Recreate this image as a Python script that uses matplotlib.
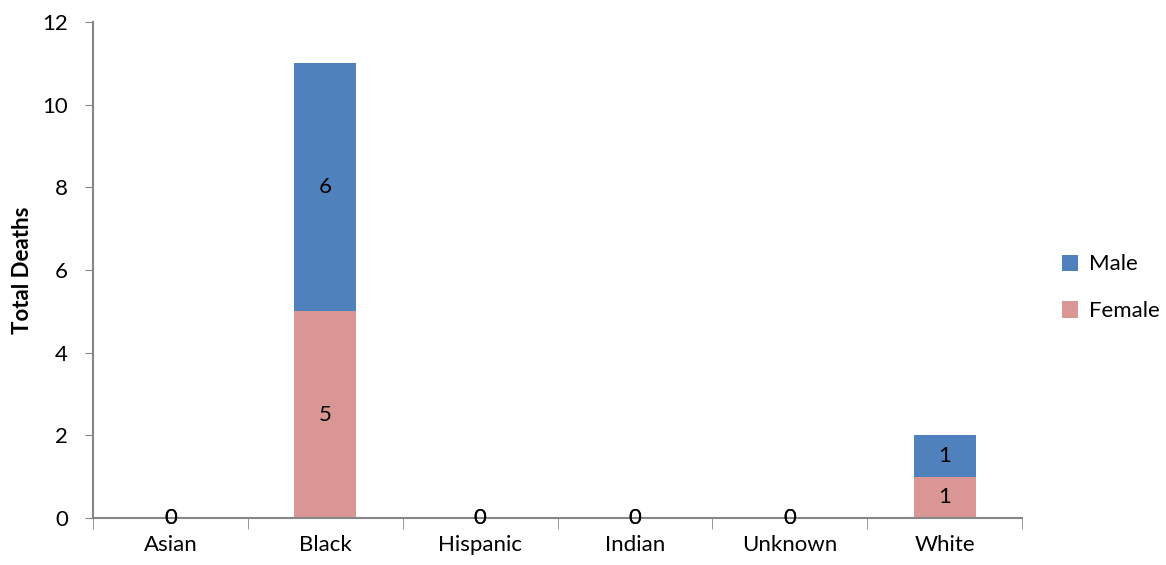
import matplotlib.pyplot as plt
import numpy as np

# Data
races = ["Asian", "Black", "Hispanic", "Indian", "Unknown", "White"]
female = [0, 5, 0, 0, 0, 1]
male = [0, 6, 0, 0, 0, 1]

plt.rcParams['font.family'] = ['Lato', 'DejaVu Sans']

fig = plt.figure(figsize=(11.66, 5.65), dpi=100)
ax = fig.add_axes([0.0798, 0.0832, 0.7967, 0.878])

x = np.arange(len(races))
bf = ax.bar(x, female, width=0.4, color='#D99694', label='Female')
bm = ax.bar(x, male, width=0.4, bottom=female, color='#4F81BD', label='Male')

# value labels (zeros sit on the axis, drawn twice like the original)
for i in range(len(races)):
    ax.text(x[i], female[i] / 2, str(female[i]), ha='center', va='center', fontsize=16)
    ax.text(x[i], female[i] + male[i] / 2, str(male[i]), ha='center', va='center', fontsize=16)

ax.set_xlim(-0.5, len(races) - 0.5)
ax.set_ylim(0, 12)
ax.set_yticks(range(0, 13, 2))
ax.set_xticks(x)
ax.set_xticklabels(races)
ax.set_xticks(np.arange(-0.5, len(races)), minor=True)
ax.tick_params(axis='x', which='major', length=0, pad=12, labelsize=16)
ax.tick_params(axis='x', which='minor', length=8, color='#868686', direction='out')
ax.tick_params(axis='y', length=6, color='#868686', direction='out', labelsize=16, pad=12)

for s in ['top', 'right']:
    ax.spines[s].set_visible(False)
for s in ['left', 'bottom']:
    ax.spines[s].set_color('#868686')
    ax.spines[s].set_linewidth(1.5)

ax.set_ylabel('Total Deaths', fontsize=16, fontweight='bold', labelpad=7)

ax.legend([bm, bf], ['Male', 'Female'], loc='center left', bbox_to_anchor=(1.021, 0.464),
          frameon=False, fontsize=16, handlelength=0.75, handleheight=0.75,
          labelspacing=1.2, handletextpad=0.5)

plt.savefig('out.png', dpi=100)
